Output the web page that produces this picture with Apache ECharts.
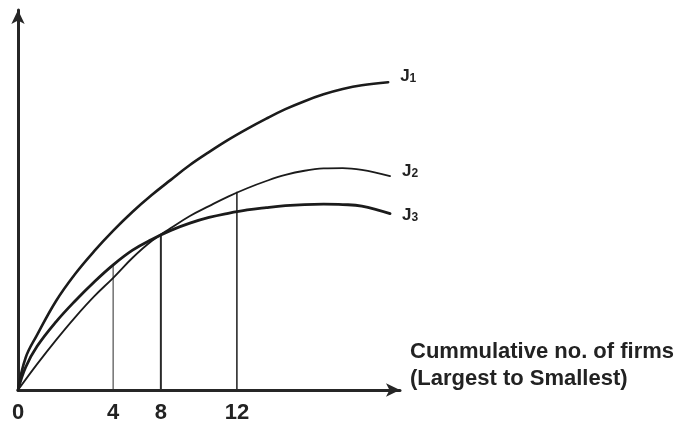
<!DOCTYPE html>
<html>
<head>
<meta charset="utf-8">
<script src="https://cdn.jsdelivr.net/npm/echarts@6/dist/echarts.min.js"></script>
<style>
html, body { margin: 0; padding: 0; background: #fff; }
#chart { width: 689px; height: 429px; }
</style>
</head>
<body>
<div id="chart"></div>
<script>
// concentration curves, values (no scale on y, units are 0-100 of the frame)
var j1 = [[0,0],[2,8.5],[5,14.5],[10,23.5],[15,30.6],[20,36.6],[25,42],[30,46.9],[35,51.3],[40,55.3],[45,59.2],[50,62.6],[55,65.8],[60,68.7],[65,71.4],[70,73.9],[75,76],[80,77.8],[85,79.2],[90,80.2],[96.9,81]];
var j2 = [[0,0],[5,6.8],[10,13.2],[15,19.2],[20,24.7],[25,29.6],[30,34.8],[35,39.2],[40,42.6],[45,45.8],[50,48.4],[55,50.9],[60,53.1],[65,55],[70,56.6],[75,57.7],[80,58.3],[85,58.4],[90,57.9],[97.4,56.3]];
var j3 = [[0,0],[2,6],[5,11.5],[10,18],[15,23.5],[20,28.5],[25,33],[30,36.8],[35,39.6],[40,42],[45,43.9],[50,45.4],[55,46.5],[60,47.4],[65,48],[70,48.5],[75,48.8],[80,48.9],[85,48.8],[90,48.4],[97.4,46.4]];

// no. of firms marked on the x axis and where they sit
var tickLabels = ['0', '4', '8', '12'];
var tickPos = [0, 24.9, 37.4, 57.3];

// vertical drop lines at 4, 8, 12 (top of each line)
var dropX = [24.9, 37.4, 57.3];
var dropY = [32.9, 40.9, 52.2];
var dropWidth = [1, 2, 1.6];

var curveNames = ['1', '2', '3'];

var chart = echarts.init(document.getElementById('chart'));

function curve(data, idx, width, off) {
	return {
		type: 'line',
		data: data,
		smooth: 0.4,
		symbol: 'none',
		lineStyle: { color: '#1b1b1b', width: width, cap: 'round' },
		endLabel: {
			show: true,
			distance: 12,
			offset: off,
			formatter: '{a|J}{b|' + curveNames[idx] + '}',
			rich: {
				a: { fontSize: 17, fontWeight: 'bold', color: '#222', fontFamily: '"Liberation Sans", Arial', verticalAlign: 'bottom' },
				b: { fontSize: 12, fontWeight: 'bold', color: '#222', fontFamily: '"Liberation Sans", Arial', verticalAlign: 'bottom' }
			}
		},
		z: 3
	};
}

var series = [
	curve(j1, 0, 2.6, [0, -6]),
	curve(j2, 1, 1.8, [0, -5]),
	curve(j3, 2, 2.8, [0, 2])
];

dropX.forEach(function(x, i) {
	series.push({
		type: 'line',
		data: [[x, 0], [x, dropY[i]]],
		symbol: 'none',
		lineStyle: { color: '#2a2a2a', width: dropWidth[i] },
		z: 2
	});
});

chart.setOption({
	animation: false,
	grid: { left: 18, right: 289, top: 10, bottom: 39 },
	xAxis: {
		type: 'value',
		min: 0,
		max: 100,
		splitLine: { show: false },
		axisTick: { show: false },
		axisLine: {
			onZero: false,
			symbol: ['none', 'arrow'],
			symbolSize: [10, 14],
			lineStyle: { color: '#262626', width: 3 }
		},
		axisLabel: {
			customValues: tickPos,
			margin: 12,
			fontSize: 22,
			fontWeight: 'bold',
			color: '#222',
			fontFamily: '"Liberation Sans", Arial',
			formatter: function(v) {
				var i = tickPos.indexOf(v);
				return i >= 0 ? tickLabels[i] : '';
			}
		}
	},
	yAxis: {
		type: 'value',
		min: 0,
		max: 100,
		splitLine: { show: false },
		axisTick: { show: false },
		axisLabel: { show: false },
		axisLine: {
			show: true,
			onZero: false,
			symbol: ['none', 'arrow'],
			symbolSize: [10, 14],
			lineStyle: { color: '#262626', width: 3 }
		}
	},
	graphic: [{
		type: 'text',
		left: 410,
		top: 338,
		style: {
			text: 'Cummulative no. of firms\n(Largest to Smallest)',
			font: 'bold 22px "Liberation Sans", Arial',
			fill: '#222',
			lineHeight: 27
		}
	}],
	series: series
});
</script>
</body>
</html>
